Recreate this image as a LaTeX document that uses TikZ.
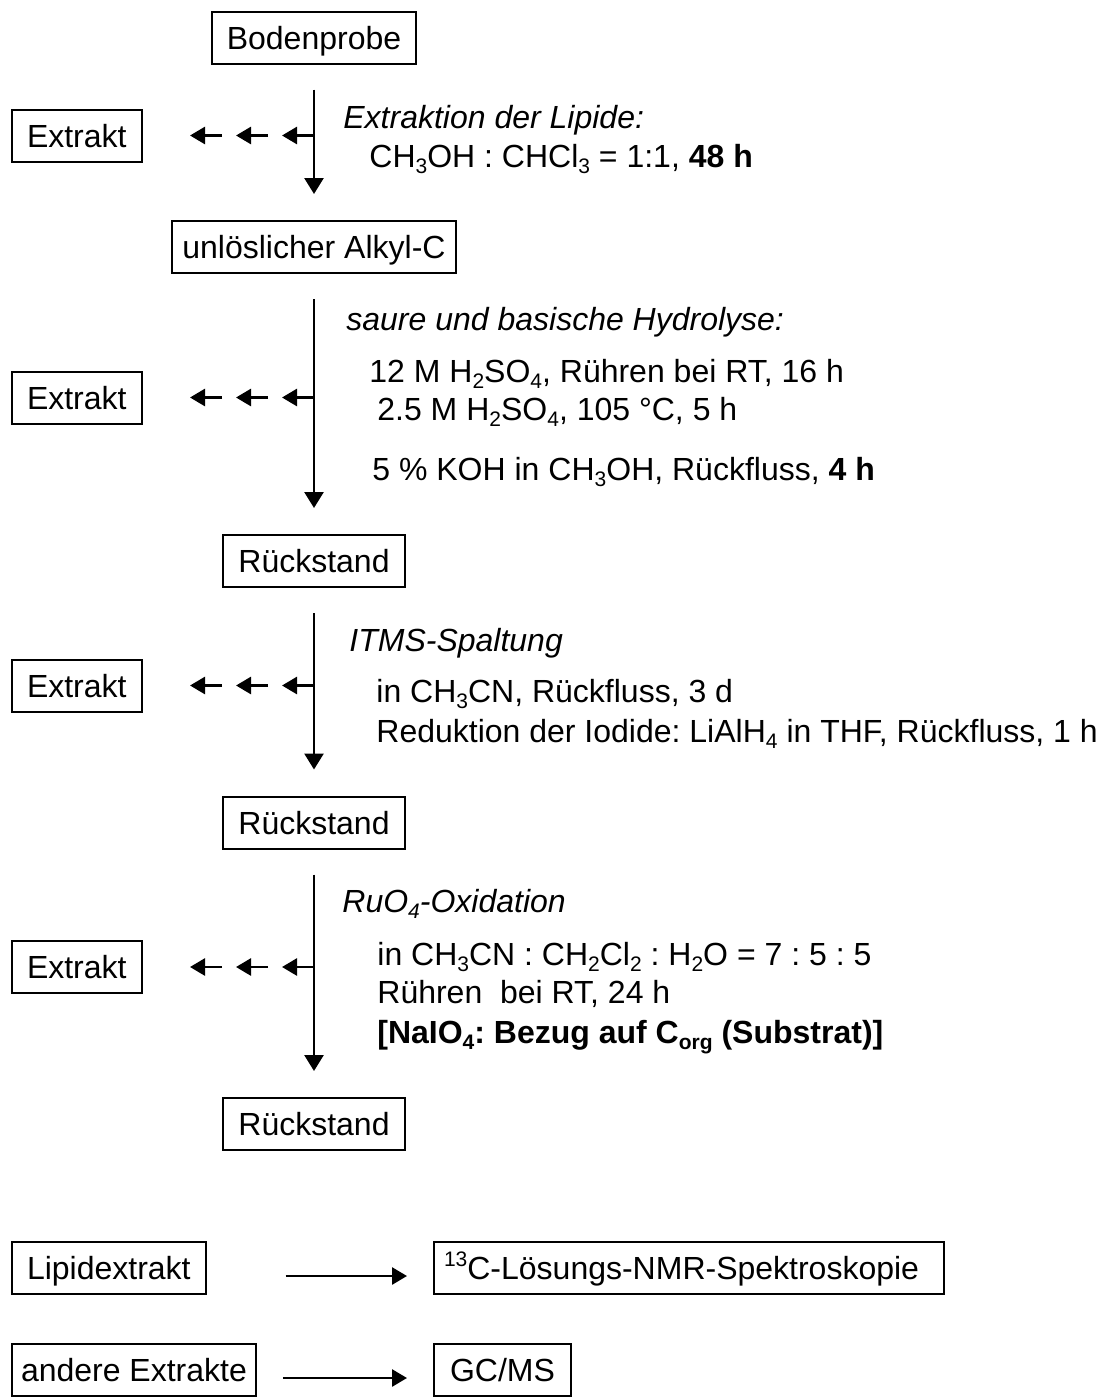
\documentclass[tikz,border=0pt]{standalone}
\usepackage{fontspec}
\setmainfont{Liberation Sans}
\usepackage{tikz}
\usetikzlibrary{arrows.meta,decorations.markings}
\frenchspacing
\newcommand{\flowfont}{\fontsize{16pt}{19.2pt}\selectfont}
\newcommand{\chemidx}[1]{\raisebox{-0.2em}{\fontsize{10.5pt}{10.5pt}\selectfont #1}}
\newcommand{\chemsup}[1]{\raisebox{0.42em}{\fontsize{10.5pt}{10.5pt}\selectfont #1}}

\begin{document}
\begin{tikzpicture}[x=0.5pt, y=-0.5pt, every node/.style={font=\flowfont}]
\tikzset{box/.style={draw, line width=1pt, minimum height=26pt, inner xsep=7.5pt, inner ysep=0pt, text height=11.5pt, text depth=0pt}}
\tikzset{arrow/.style={-{Triangle[length=8pt, width=9.5pt]}, line width=1.35pt, shorten <=12.5pt, shorten >=13pt}}
\tikzset{sidetip/.style={-{Triangle[length=7.5pt, width=8.5pt]}, line width=1.35pt}}
\tikzset{sidearrow/.style={line width=1.35pt, dash pattern=on 13pt off 10pt, shorten >=24pt, postaction={decorate},
  decoration={markings,
    mark=at position 16pt with {\arrow{Triangle[length=7.5pt, width=8.5pt]}},
    mark=at position 39pt with {\arrow{Triangle[length=7.5pt, width=8.5pt]}},
    mark=at position 62pt with {\arrow{Triangle[length=7.5pt, width=8.5pt]}}}}}
\tikzset{note/.style={anchor=base west, inner sep=0pt}}
\useasboundingbox (0,0) rectangle (1109,1397);
% main column
\node[box] (boden) at (314,37.5) {Bodenprobe};
\node[box, inner xsep=5pt] (alkyl) at (314,247) {unlöslicher Alkyl-C};
\node[box] (rest1) at (314,561) {Rückstand};
\node[box] (rest2) at (314,822.5) {Rückstand};
\node[box] (rest3) at (314,1124) {Rückstand};
% extracts
\node[box, anchor=west] (ext1) at (11,135.5) {Extrakt};
\node[box, anchor=west] (ext2) at (11,397.5) {Extrakt};
\node[box, anchor=west] (ext3) at (11,685.5) {Extrakt};
\node[box, anchor=west] (ext4) at (11,967) {Extrakt};
% conditions
\node[note] (lipide) at (343,128) {\textit{Extraktion der Lipide:}};
\node[note] (lipidecond) at (369,167) {CH\chemidx{3}OH : CHCl\chemidx{3} = 1:1, \textbf{48 h}};
\node[note] (hydro) at (346,330) {\textit{saure und basische Hydrolyse:}};
\node[note] (hydroa) at (369,382) {12 M H\chemidx{2}SO\chemidx{4}, Rühren bei RT, 16 h};
\node[note] (hydrob) at (377,420) {2.5 M H\chemidx{2}SO\chemidx{4}, 105~°C, 5 h};
\node[note] (hydroc) at (372,480) {5 \% KOH in CH\chemidx{3}OH, Rückfluss, \textbf{4 h}};
\node[note] (itms) at (349,651) {\textit{ITMS-Spaltung}};
\node[note] (itmsa) at (376,702) {in CH\chemidx{3}CN, Rückfluss, 3 d};
\node[note] (itmsb) at (376,742) {Reduktion der Iodide: LiAlH\chemidx{4} in THF, Rückfluss, 1 h};
\node[note] (ruox) at (342,912) {\textit{RuO\chemidx{4}-Oxidation}};
\node[note] (ruoxa) at (377,965) {in CH\chemidx{3}CN : CH\chemidx{2}Cl\chemidx{2} : H\chemidx{2}O = 7 : 5 : 5};
\node[note] (ruoxb) at (377,1003) {Rühren~ bei RT, 24 h};
\node[note] (ruoxc) at (377,1043) {\textbf{[NaIO\chemidx{4}: Bezug auf C\chemidx{org} (Substrat)]}};
% analysis
\node[box, anchor=west] (lipid) at (11,1268) {Lipidextrakt};
\node[box, anchor=west, text width=245pt, inner xsep=5pt] (nmr) at (433,1268) {\chemsup{13}C-Lösungs-NMR-Spektroskopie};
\node[box, anchor=west, inner xsep=4.5pt] (andere) at (11,1370) {andere Extrakte};
\node[box, anchor=west, inner xsep=8pt] (gcms) at (433,1370) {GC/MS};
% flow
\draw[arrow] (boden) -- (alkyl);
\draw[arrow] (alkyl) -- (rest1);
\draw[arrow] (rest1) -- (rest2);
\draw[arrow] (rest2) -- (rest3);
\draw[sidearrow] (boden |- ext1) -- (ext1.east);
\draw[sidearrow] (boden |- ext2) -- (ext2.east);
\draw[sidearrow] (boden |- ext3) -- (ext3.east);
\draw[sidearrow] (boden |- ext4) -- (ext4.east);
\draw[sidetip, shorten <=39.5pt, shorten >=13pt] ([yshift=-4pt]lipid.east) -- ([yshift=-4pt]nmr.west);
\draw[sidetip, shorten <=13pt, shorten >=13pt] ([yshift=-4pt]andere.east) -- ([yshift=-4pt]gcms.west);
\end{tikzpicture}
\end{document}
